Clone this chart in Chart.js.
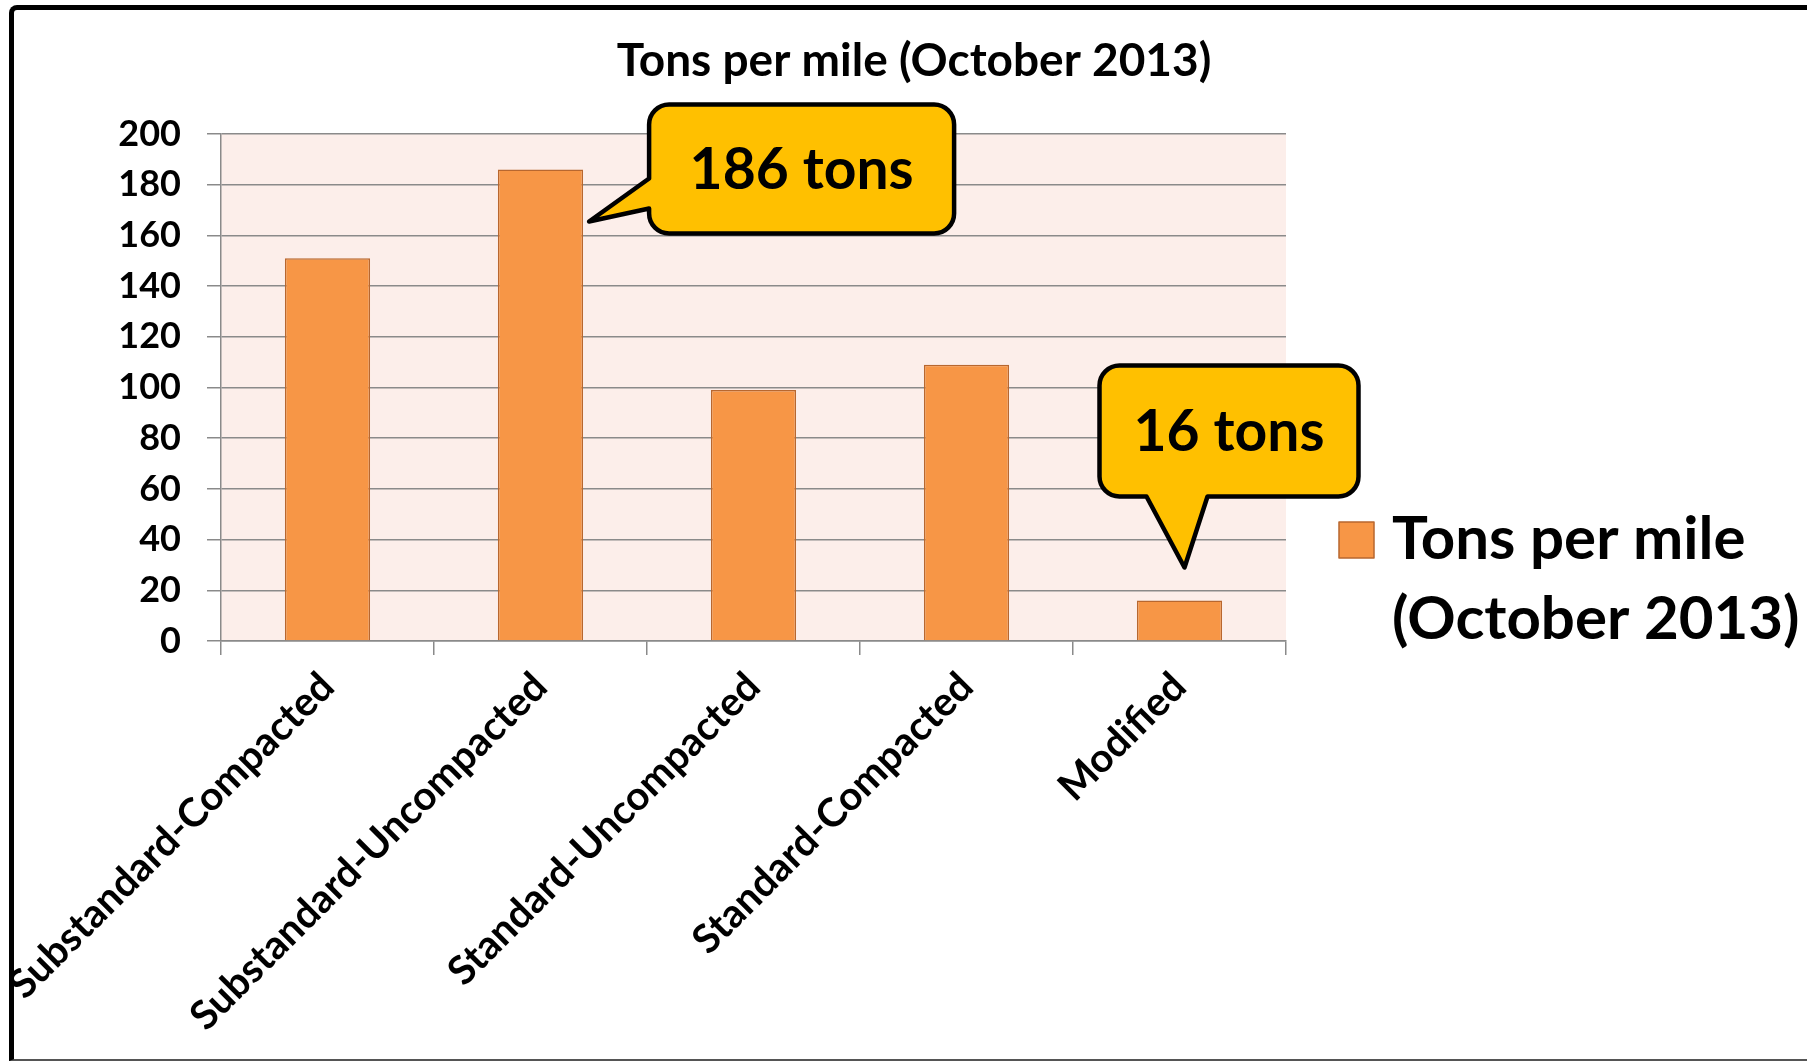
<!DOCTYPE html>
<html>
<head>
<meta charset="utf-8">
<title>Tons per mile (October 2013)</title>
<script src="https://cdn.jsdelivr.net/npm/chart.js@4.4.1/dist/chart.umd.min.js"></script>
<style>
    html, body { margin: 0; padding: 0; background: #fff; overflow: hidden; }
    #wrap { position: absolute; left: 0; top: 0; width: 1807px; height: 1061px; }
    #frame {
        position: absolute; left: 9px; top: 5px; width: 1850px; height: 1049px;
        border: 5px solid #000; border-bottom: 2px solid #555; border-radius: 8px 0 0 0;
        pointer-events: none;
    }
</style>
</head>
<body>
<div id="wrap"><canvas id="chart" width="1807" height="1061"></canvas></div>
<div id="frame"></div>
<script>
// data
const chartTitle = 'Tons per mile (October 2013)';
const categories = ['Substandard-Compacted', 'Substandard-Uncompacted', 'Standard-Uncompacted', 'Standard-Compacted', 'Modified'];
const tonsPerMile = [151, 186, 99, 109, 16];
const legendLines = ['Tons per mile', '(October 2013)'];
const yMin = 0;
const yMax = 200;
const yStep = 20;
const calloutBars = [1, 4]; // which bars get a "xx tons" bubble

const FONT = "Lato, 'Open Sans', sans-serif";
const barFill = '#F79646';
const barEdge = '#B8672F';
const gridGray = '#8A8A8A';

// rounded box with a pointer wedge on one side
function bubble(ctx, b, side, p1, p2, tip) {
    const { x, y, w, h, r } = b;
    ctx.beginPath();
    ctx.moveTo(x + r, y);
    ctx.lineTo(x + w - r, y);
    ctx.arcTo(x + w, y, x + w, y + r, r);
    ctx.lineTo(x + w, y + h - r);
    ctx.arcTo(x + w, y + h, x + w - r, y + h, r);
    if (side === 'bottom') {
        ctx.lineTo(x + p2, y + h);
        ctx.lineTo(tip.x, tip.y);
        ctx.lineTo(x + p1, y + h);
    }
    ctx.lineTo(x + r, y + h);
    ctx.arcTo(x, y + h, x, y + h - r, r);
    if (side === 'left') {
        ctx.lineTo(x, y + p2);
        ctx.lineTo(tip.x, tip.y);
        ctx.lineTo(x, y + p1);
    }
    ctx.lineTo(x, y + r);
    ctx.arcTo(x, y, x + r, y, r);
    ctx.closePath();
    ctx.fillStyle = '#FFC000';
    ctx.fill();
    ctx.lineWidth = 4.5;
    ctx.lineJoin = 'round';
    ctx.strokeStyle = '#000';
    ctx.stroke();
}

const decorations = {
    id: 'decorations',
    beforeDraw(chart) {
        const { ctx, chartArea: a } = chart;
        ctx.save();
        ctx.fillStyle = '#FCEEEA';
        ctx.fillRect(a.left, a.top, a.right - a.left, a.bottom - a.top);
        ctx.restore();
    },
    afterDraw(chart) {
        const ctx = chart.ctx;
        const meta = chart.getDatasetMeta(0);
        ctx.save();

        // title
        ctx.fillStyle = '#000';
        ctx.font = `bold 46px ${FONT}`;
        ctx.textAlign = 'center';
        ctx.textBaseline = 'middle';
        ctx.fillText(chartTitle, 914, 61);

        // callouts
        calloutBars.forEach(i => {
            const bar = meta.data[i];
            const text = tonsPerMile[i] + ' tons';
            let box, tip;
            if (i === 1) {
                tip = { x: bar.x + bar.width / 2 + 6, y: bar.y + 52 };
                box = { x: tip.x + 60, y: tip.y - 117, w: 305, h: 129, r: 20 };
                bubble(ctx, box, 'left', 74, 104, tip);
            } else {
                tip = { x: bar.x + 5, y: bar.y - 33 };
                box = { x: tip.x - 85, y: tip.y - 202, w: 259, h: 131, r: 20 };
                bubble(ctx, box, 'bottom', 47, 108, tip);
            }
            ctx.fillStyle = '#000';
            ctx.font = `bold 57px ${FONT}`;
            ctx.textAlign = 'center';
            ctx.textBaseline = 'middle';
            ctx.fillText(text, box.x + box.w / 2, box.y + box.h / 2 + 2);
        });

        // legend
        ctx.fillStyle = barFill;
        ctx.fillRect(1339, 522, 35, 36);
        ctx.strokeStyle = barEdge;
        ctx.lineWidth = 1.5;
        ctx.strokeRect(1339, 522, 35, 36);
        ctx.fillStyle = '#000';
        ctx.font = `bold 60px ${FONT}`;
        ctx.textAlign = 'left';
        ctx.textBaseline = 'middle';
        legendLines.forEach((t, k) => ctx.fillText(t, 1392, 540 + k * 80));
        ctx.restore();
    }
};

new Chart(document.getElementById('chart'), {
    type: 'bar',
    data: {
        labels: categories,
        datasets: [{
            label: legendLines.join(' '),
            data: tonsPerMile,
            backgroundColor: barFill,
            borderColor: barEdge,
            borderWidth: 1.5,
            barPercentage: 0.4,
            categoryPercentage: 1.0,
        }],
    },
    options: {
        responsive: false,
        animation: false,
        layout: { padding: { top: 134, right: 521, left: 0, bottom: 0 } },
        plugins: {
            legend: { display: false },
            title: { display: false },
            tooltip: { enabled: false },
        },
        scales: {
            x: {
                grid: { drawOnChartArea: false, drawTicks: true, tickLength: 14, color: gridGray, lineWidth: 1.5, offset: true },
                border: { display: true, color: gridGray, width: 1.5 },
                ticks: {
                    autoSkip: false,
                    maxRotation: 45,
                    minRotation: 45,
                    padding: 8,
                    color: '#000',
                    font: { family: FONT, size: 40, weight: 'bold' },
                },
                afterFit(scale) {
                    scale.height = 420;
                    scale.paddingLeft = 0;
                    scale.paddingRight = 0;
                },
            },
            y: {
                min: yMin,
                max: yMax,
                grid: { color: gridGray, lineWidth: 1.5, tickLength: 14 },
                border: { display: true, color: gridGray, width: 1.5 },
                ticks: {
                    stepSize: yStep,
                    padding: 26,
                    color: '#000',
                    font: { family: FONT, size: 36, weight: 'bold' },
                },
                afterFit(scale) {
                    scale.width = 221;
                },
            },
        },
    },
    plugins: [decorations],
});
</script>
</body>
</html>
